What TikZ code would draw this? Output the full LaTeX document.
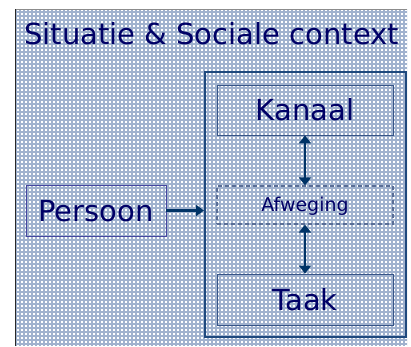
\documentclass[tikz,border=0pt]{standalone}
\usepackage{fontspec}
\setmainfont{DejaVu Sans}
\usetikzlibrary{arrows.meta}
\definecolor{navytext}{RGB}{0,0,102}
\definecolor{gridcol}{RGB}{160,178,206}
\definecolor{framecol}{RGB}{31,73,125}
\definecolor{boxcol}{RGB}{55,85,135}
\definecolor{dashcol}{RGB}{90,110,150}
\definecolor{percol}{RGB}{70,70,160}
\definecolor{arrowcol}{RGB}{0,51,102}
\definecolor{topline}{RGB}{140,140,140}
\definecolor{leftline}{RGB}{40,40,40}
\tikzset{
  bigtext/.style={text=navytext, font=\fontsize{29}{34}\selectfont, text height=21.1pt, text depth=0pt, inner sep=0pt},
  smalltext/.style={text=navytext, font=\fontsize{19}{23}\selectfont, text height=13.9pt, text depth=0pt, inner sep=0pt},
  solidbox/.style={draw=boxcol, line width=0.9pt, minimum width=176pt},
  arr/.style={draw=arrowcol, line width=2.6pt, -{Triangle[width=11pt,length=8pt]}},
  darr/.style={draw=arrowcol, line width=2.6pt, {Triangle[width=12pt,length=8pt]}-{Triangle[width=12pt,length=8pt]}}
}
\begin{document}
\begin{tikzpicture}[x=1pt,y=-1pt]
\useasboundingbox (0,0) rectangle (411,346);
\fill[white] (0,0) rectangle (411,346);
\begin{scope}
  \clip (15,9) rectangle (407,346);
  \draw[gridcol, line width=1.9pt, step=4pt] (15,9) grid (411,346);
\end{scope}
\draw[topline, line width=1pt] (15,9) -- (407,9);
\draw[leftline, line width=1pt] (15,346) -- (15,9);

\node[bigtext, anchor=base west] (title) at (24,44) {Situatie \& Sociale context};

\node[draw=framecol, line width=2pt, minimum width=201pt, minimum height=265pt, inner sep=0pt] (frame) at (305.5,204.5) {};

\node[bigtext, solidbox, minimum height=50pt] (kanaal) at (305,110) {Kanaal};
\node[smalltext, draw=dashcol, line width=1.2pt, dash pattern=on 4pt off 3pt, minimum width=176pt, minimum height=38pt] (afweging) at (305,205) {Afweging};
\node[bigtext, solidbox, minimum height=51pt] (taak) at (305,299.5) {Taak};
\node[bigtext, draw=percol, line width=0.9pt, minimum width=140pt, minimum height=51pt] (persoon) at (96,210.5) {Persoon};

\draw[arr] (persoon.east) -- (persoon.east -| frame.west);
\draw[darr] (kanaal.south) -- (afweging.north);
\draw[darr] (afweging.south) -- (taak.north);
\end{tikzpicture}
\end{document}
